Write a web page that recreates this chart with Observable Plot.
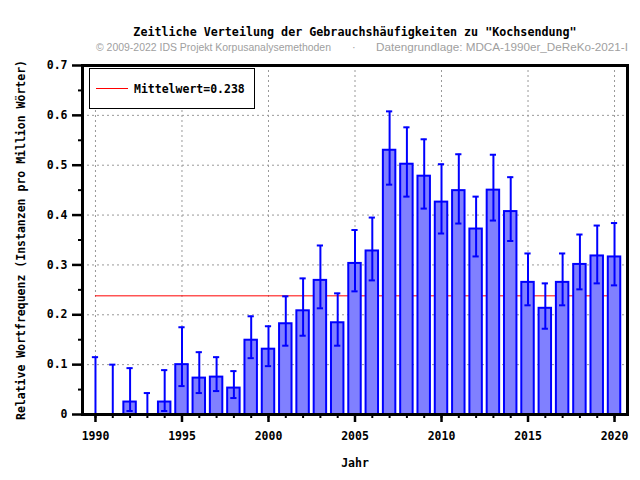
<!DOCTYPE html>
<html>
<head>
<meta charset="utf-8">
<script src="https://cdn.jsdelivr.net/npm/d3@7"></script>
<script src="https://cdn.jsdelivr.net/npm/@observablehq/plot@0.6"></script>
<style>
  html, body { margin: 0; padding: 0; background: white; }
  #chart { position: relative; width: 640px; height: 480px; }
</style>
</head>
<body>
<div id="chart"></div>
<script>
const years = [1990,1991,1992,1993,1994,1995,1996,1997,1998,1999,2000,2001,2002,2003,2004,2005,2006,2007,2008,2009,2010,2011,2012,2013,2014,2015,2016,2017,2018,2019,2020];
const values = [0,0,0.025,0,0.025,0.100,0.073,0.075,0.053,0.149,0.131,0.182,0.208,0.269,0.184,0.303,0.328,0.530,0.502,0.478,0.426,0.449,0.372,0.450,0.407,0.265,0.213,0.265,0.301,0.318,0.316];
const errLow = [0,0,0.007,0,0.007,0.057,0.043,0.047,0.033,0.113,0.097,0.138,0.158,0.213,0.138,0.247,0.269,0.461,0.437,0.413,0.363,0.383,0.317,0.389,0.348,0.219,0.172,0.219,0.251,0.263,0.259];
const errHigh = [0.115,0.100,0.093,0.043,0.089,0.175,0.125,0.115,0.087,0.197,0.177,0.237,0.273,0.339,0.243,0.370,0.395,0.608,0.576,0.552,0.502,0.522,0.437,0.521,0.476,0.323,0.263,0.323,0.361,0.379,0.384];
const meanValue = 0.238;
const legendLabel = "Mittelwert=0.238";
const xMajorTicks = [1990,1995,2000,2005,2010,2015,2020];
const yTicks = [0,0.1,0.2,0.3,0.4,0.5,0.6,0.7];
const yTickLabels = ["0","0.1","0.2","0.3","0.4","0.5","0.6","0.7"];
const yMinorTicks = [0.05,0.15,0.25,0.35,0.45,0.55,0.65];
const yGridTicks = [0.1,0.2,0.3,0.4,0.5,0.6];
const title = "Zeitliche Verteilung der Gebrauchshäufigkeiten zu \"Kochsendung\"";
const subLeft = "© 2009-2022 IDS Projekt Korpusanalysemethoden";
const subMid = "·";
const subRight = "Datengrundlage: MDCA-1990er_DeReKo-2021-I";
const xLabel = "Jahr";
const yLabel = "Relative Wortfrequenz (Instanzen pro Million Wörter)";

const data = years.map((y, i) => ({year: y, value: values[i], lo: errLow[i], hi: errHigh[i]}));

const mono = "'DejaVu Sans Mono', monospace";
const blue = "#0000ff";
const halfBar = 0.36, halfCap = 0.18;

const plot = Plot.plot({
  width: 640,
  height: 480,
  marginLeft: 82,
  marginRight: 13,
  marginTop: 65,
  marginBottom: 66,
  style: {fontFamily: mono, fontSize: "11.5px", fontWeight: "bold", color: "black", background: "white", overflow: "visible"},
  x: {domain: [1989.25, 2020.75]},
  y: {domain: [0, 0.7]},
  marks: [
    Plot.gridX(xMajorTicks, {stroke: "#999", strokeOpacity: 1, strokeDasharray: "2,3", strokeWidth: 1}),
    Plot.gridY(yGridTicks, {stroke: "#999", strokeOpacity: 1, strokeDasharray: "2,3", strokeWidth: 1}),
    Plot.ruleY([meanValue], {x1: years[0], x2: years[years.length - 1], stroke: "#ff0000", strokeWidth: 1}),
    Plot.rect(data.filter(d => d.value > 0), {x1: d => d.year - halfBar, x2: d => d.year + halfBar, y1: 0, y2: "value", fill: "#8080ff", stroke: blue, strokeWidth: 2}),
    Plot.ruleX(data, {x: "year", y1: "lo", y2: "hi", stroke: blue, strokeWidth: 2}),
    Plot.ruleY(data, {y: "hi", x1: d => d.year - halfCap, x2: d => d.year + halfCap, stroke: blue, strokeWidth: 2}),
    Plot.ruleY(data, {y: "lo", x1: d => d.year - halfCap, x2: d => d.year + halfCap, stroke: blue, strokeWidth: 2}),
    Plot.axisX(years, {tickSize: 4, tickFormat: () => "", strokeWidth: 2, label: null}),
    Plot.axisX(xMajorTicks, {tickSize: 8, tickPadding: 9, tickFormat: d => String(d), strokeWidth: 2.5, label: null, fontSize: 11.5, fontWeight: "bold"}),
    Plot.axisY(yMinorTicks, {tickSize: 4, tickFormat: () => "", strokeWidth: 2, label: null}),
    Plot.axisY(yTicks, {tickSize: 10, tickPadding: 5, tickFormat: d => yTickLabels[yTicks.indexOf(d)], strokeWidth: 2.5, label: null, fontSize: 11.5, fontWeight: "bold"}),
    Plot.frame({stroke: "black", strokeWidth: 3}),
    Plot.text([title], {frameAnchor: "top", dy: -30, lineAnchor: "bottom", fontSize: 11.7, fontWeight: "bold", fontFamily: mono}),
    Plot.text([xLabel], {frameAnchor: "bottom", dy: 52, lineAnchor: "bottom", fontSize: 11.5, fontWeight: "bold", fontFamily: mono}),
    Plot.text([yLabel], {frameAnchor: "left", dx: -58, rotate: -90, textAnchor: "middle", lineAnchor: "bottom", fontSize: 11.5, fontWeight: "bold", fontFamily: mono})
  ]
});

document.getElementById("chart").appendChild(plot);

// subtitle (one text line in three parts) and legend — layout only
const svg = d3.select(plot);
const subFont = "'Liberation Sans Narrow', 'Arial Narrow', 'Liberation Sans', sans-serif";
const sub = svg.append("text").attr("y", 51).attr("fill", "#a0a0a0").attr("font-family", subFont).attr("font-size", 11).attr("font-weight", "normal").attr("text-anchor", "start");
sub.append("tspan").attr("x", 96).attr("textLength", 235).attr("lengthAdjust", "spacingAndGlyphs").text(subLeft);
sub.append("tspan").attr("x", 352).text(subMid);
sub.append("tspan").attr("x", 376).attr("textLength", 252).attr("lengthAdjust", "spacingAndGlyphs").text(subRight);

const leg = svg.append("g");
leg.append("rect").attr("x", 89.5).attr("y", 68.5).attr("width", 165).attr("height", 40).attr("fill", "white").attr("stroke", "black").attr("stroke-width", 1);
leg.append("line").attr("x1", 96).attr("x2", 128).attr("y1", 88.5).attr("y2", 88.5).attr("stroke", "#ff0000").attr("stroke-width", 1);
leg.append("text").attr("x", 134).attr("y", 92.5).attr("text-anchor", "start").attr("font-family", mono).attr("font-size", 11.5).attr("font-weight", "bold").attr("fill", "black").text(legendLabel);
</script>
</body>
</html>
